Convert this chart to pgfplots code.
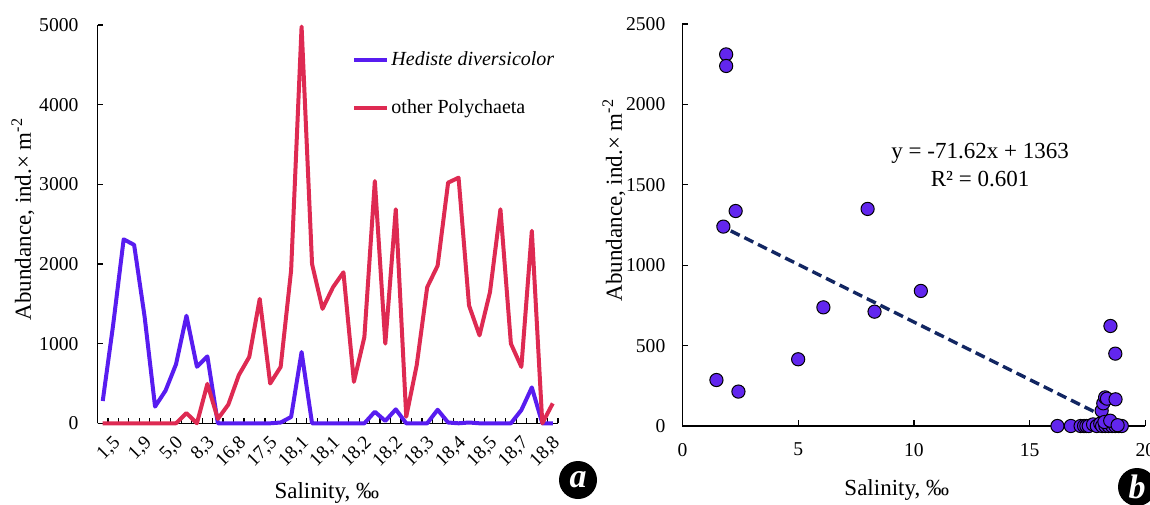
\documentclass[border=0pt]{standalone}
\usepackage{fontspec}
\setmainfont{Liberation Serif}
\usepackage{pgfplots}
\usepackage{pgfplotstable}
\pgfplotsset{compat=1.18}
\definecolor{hed}{RGB}{88,28,240}
\definecolor{poly}{RGB}{222,42,82}
\definecolor{dot}{RGB}{98,38,238}
\definecolor{trend}{RGB}{18,38,98}

\pgfplotstableread{
i hed poly
0 280 0
1 1240 0
2 2310 0
3 2240 0
4 1340 0
5 210 0
6 410 0
7 740 0
8 1350 128
9 710 0
10 840 495
11 0 55
12 0 235
13 0 604
14 0 833
15 0 1562
16 0 500
17 10 708
18 80 1920
19 895 4980
20 0 2000
21 0 1437
22 0 1708
23 0 1896
24 0 521
25 0 1083
26 145 3041
27 30 1000
28 175 2687
29 0 83
30 0 729
31 0 1708
32 170 1979
33 10 3021
34 0 3083
35 10 1479
36 0 1104
37 0 1646
38 0 2687
39 0 1000
40 166 708
41 450 2416
42 0 0
43 0 250
}\linedata

\pgfplotstableread{
x y
1.47 286
1.77 1240
1.89 2311
1.89 2239
2.30 1337
2.42 214
5.00 415
6.09 738
8.00 1350
8.30 711
10.30 840
16.20 0
16.78 0
17.20 0
17.35 0
17.45 0
17.55 0
17.74 10
17.90 0
18.05 15
18.13 0
18.27 0
18.41 0
18.56 0
18.70 0
18.85 0
18.98 0
18.11 95
18.18 141
18.26 178
18.34 170
18.71 166
18.49 622
18.70 450
18.23 25
18.48 33
18.80 5
}\scatterdata

\pgfplotsset{
  common/.style={
    scale only axis,
    axis x line*=bottom, axis y line*=left,
    axis line style={line width=0.75pt, black},
    tick align=inside,
    tick style={line width=0.6pt, black},
    major tick length=2.8pt,
    tick label style={font=\fontsize{9.8}{11}\selectfont},
    label style={font=\fontsize{11.5}{13}\selectfont},
    /pgf/number format/assume math mode=true,
    /pgf/number format/1000 sep={},
    scaled ticks=false,
    clip=false,
  }
}

\begin{document}
\begin{tikzpicture}
\useasboundingbox (0pt,0pt) rectangle (575pt,252pt);
\clip (0pt,0pt) rectangle (575pt,252pt);

\begin{axis}[common,
  at={(48.75pt,40.35pt)}, anchor=south west,
  width=230.25pt, height=199.15pt,
  xmin=-0.5, xmax=43.5, ymin=0, ymax=5000,
  xtick={0,3,...,42},
  xticklabels={{1,5},{1,9},{5,0},{8,3},{16,8},{17,5},{18,1},{18,1},{18,2},{18,2},{18,3},{18,4},{18,5},{18,7},{18,8}},
  minor xtick={-0.5,0.5,...,43.5},
  major x tick style={draw=none},
  minor tick length=2.8pt,
  minor x tick style={line width=0.6pt, black, draw=black},
  xticklabel style={rotate=45, anchor=north east, yshift=-6.5pt, inner sep=0.5pt, font=\fontsize{9.6}{10}\selectfont},
  ytick={0,1000,...,5000},
  yticklabel style={xshift=-6pt},
  xlabel={Salinity, ‰},
  ylabel={Abundance, ind.× m\textsuperscript{-2}},
  xlabel style={at={(axis description cs:0.498,-0.175)}, anchor=center},
  ylabel style={at={(axis description cs:-0.162,0.513)}, anchor=center},
  legend style={at={(axis description cs:0.552,0.94)}, anchor=north west, draw=none, fill=none,
    font=\fontsize{10}{12}\selectfont, row sep=13pt, inner sep=0pt,
    nodes={inner sep=1.2pt}},
  legend cell align=left,
  legend image code/.code={\draw[#1, line width=2pt] (0pt,0pt) -- (16.5pt,0pt);},
]
\addplot[hed, line width=2pt, line join=round] table[x=i, y=hed] {\linedata};
\addlegendentry{\textit{Hediste diversicolor}}
\addplot[poly, line width=2pt, line join=round] table[x=i, y=poly] {\linedata};
\addlegendentry{other Polychaeta}
\end{axis}

\begin{axis}[common,
  at={(341.2pt,39pt)}, anchor=south west,
  width=231.5pt, height=201pt,
  xmin=0, xmax=20, ymin=0, ymax=2500,
  xtick={0,5,...,20},
  ytick={0,500,...,2500},
  xticklabel style={yshift=-5pt},
  yticklabel style={xshift=-5pt},
  xlabel={Salinity, ‰},
  ylabel={Abundance, ind.× m\textsuperscript{-2}},
  xlabel style={at={(axis description cs:0.463,-0.159)}, anchor=center},
  ylabel style={at={(axis description cs:-0.148,0.562)}, anchor=center},
]
\addplot[only marks, mark=*, mark size=3.3pt, mark options={fill=dot, draw=black, line width=0.5pt}] table[x=x, y=y] {\scatterdata};
\addplot[trend, line width=1.7pt, dash pattern=on 5pt off 2.6pt] coordinates {(1.5,1255.6) (18.9,9.4)};
\node[align=center, font=\fontsize{11.5}{14}\selectfont] at (axis cs:12.86,1623) {y = -71.62x + 1363\\R² = 0.601};
\end{axis}

\node[circle, fill=black, minimum size=19pt, inner sep=0pt, text=white, font=\fontsize{17}{17}\selectfont\bfseries\itshape] at (289pt,12pt) {a};
\node[circle, fill=black, minimum size=19pt, inner sep=0pt, text=white, font=\fontsize{17}{17}\selectfont\bfseries\itshape] at (568.5pt,8.5pt) {b};
\end{tikzpicture}
\end{document}
